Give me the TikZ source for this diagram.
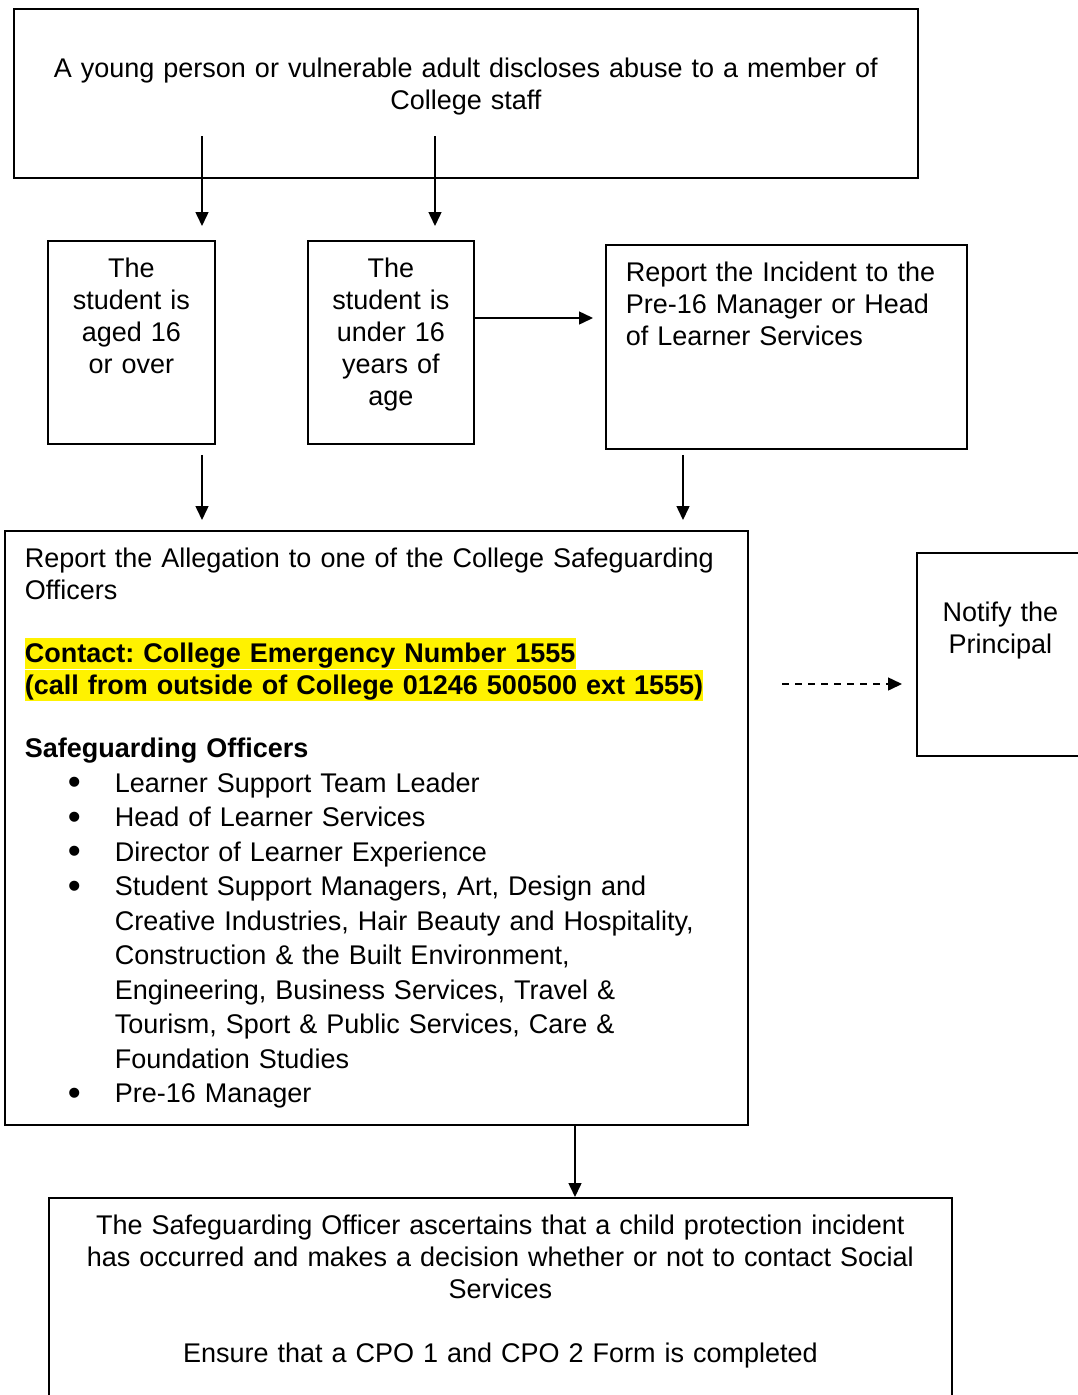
\documentclass[tikz,border=0pt]{standalone}
\usepackage{fontspec}
\setmainfont{Liberation Sans}
\usepackage{xcolor}
\usepackage{tikz}
\usetikzlibrary{arrows.meta,positioning,calc}
\frenchspacing
\newcommand{\hilite}[1]{{\setlength{\fboxsep}{0pt}\colorbox{yellow}{\rule[-5.8pt]{0pt}{30.7pt}#1}}}
\newcommand{\bigbullet}{\raisebox{-2.5pt}{\fontsize{37}{32}\selectfont\textbullet}}
\newcommand{\officer}[1]{\\[2.5pt]\hspace*{43pt}\makebox[47pt][l]{\bigbullet}#1}
\newcommand{\officermore}[1]{\\[2.5pt]\hspace*{90pt}#1}
\tikzset{
    box/.style={draw, line width=1.8pt, anchor=north west, inner ysep=0pt, font=\fontsize{27}{32}\selectfont},
    cbox/.style={box, align=center, inner xsep=5pt},
    lbox/.style={box, align=left, inner xsep=20pt},
    arr/.style={-{Triangle[length=14pt,width=13pt]}, line width=1.5pt},
    darr/.style={arr, dash pattern=on 7pt off 6pt},
}

\begin{document}
\begin{tikzpicture}[x=1pt,y=-1pt]
    \useasboundingbox (0,0) rectangle (1078,1395);
    \clip (0,0) rectangle (1078,1395);

    \node[cbox, inner xsep=10pt, text width=884pt, text height=69pt, text depth=100pt] (disclose) at (13,8)
        {A young person or vulnerable adult discloses abuse to a member of\\College staff};
    \node[cbox, text width=157pt, text height=37pt, text depth=166pt] (age16) at (47,240)
        {The\\student is\\aged 16\\or over};
    \node[cbox, text width=156pt, text height=37pt, text depth=166pt] (under16) at (307,240)
        {The\\student is\\under 16\\years of\\age};
    \node[lbox, text width=321pt, text height=37pt, text depth=167pt] (incident) at (605,244)
        {Report the Incident to the\\Pre-16 Manager or Head\\of Learner Services};
    \node[lbox, text width=703pt, text height=37pt, text depth=557pt] (alleg) at (4,530)
        {Report the Allegation to one of the College Safeguarding\\
         Officers\\[31pt]
         \hilite{\textbf{Contact: College Emergency Number 1555}}\\
         \hilite{\textbf{(call from outside of College 01246 500500 ext 1555)}}\\[31pt]
         \textbf{Safeguarding Officers}
         \officer{Learner Support Team Leader}
         \officer{Head of Learner Services}
         \officer{Director of Learner Experience}
         \officer{Student Support Managers, Art, Design and}
         \officermore{Creative Industries, Hair Beauty and Hospitality,}
         \officermore{Construction \& the Built Environment,}
         \officermore{Engineering, Business Services, Travel \&}
         \officermore{Tourism, Sport \& Public Services, Care \&}
         \officermore{Foundation Studies}
         \officer{Pre-16 Manager}};
    \node[cbox, text width=157pt, text height=69pt, text depth=134pt] (notify) at (916,552)
        {Notify the\\Principal};
    \node[cbox, inner xsep=10pt, text width=883pt, text height=37pt, text depth=186pt] (ssteps) at (48,1197)
        {The Safeguarding Officer ascertains that a child protection incident\\
         has occurred and makes a decision whether or not to contact Social\\
         Services\\[32pt]
         Ensure that a CPO 1 and CPO 2 Form is completed};

    \coordinate (d1) at (202,136);
    \coordinate (d2) at (435,136);
    \coordinate (u1) at (473,318);
    \coordinate (i1) at (683,448);
    \coordinate (p1) at (747,684);
    \coordinate (s1) at (575,1124);

    \draw[arr, shorten >=14pt] (d1) -- (d1 |- age16.north);
    \draw[arr, shorten >=14pt] (d2) -- (d2 |- under16.north);
    \draw[arr, shorten >=12pt] (u1) -- (u1 -| incident.west);
    \draw[arr, shorten <=10pt, shorten >=10pt] (d1 |- age16.south) -- (d1 |- alleg.north);
    \draw[arr, shorten <=5pt, shorten >=10pt] (i1 |- incident.south) -- (i1 |- alleg.north);
    \draw[darr, shorten <=35pt, shorten >=14pt] (p1) -- (p1 -| notify.west);
    \draw[arr] (s1 |- alleg.south) -- (s1 |- ssteps.north);
\end{tikzpicture}
\end{document}
